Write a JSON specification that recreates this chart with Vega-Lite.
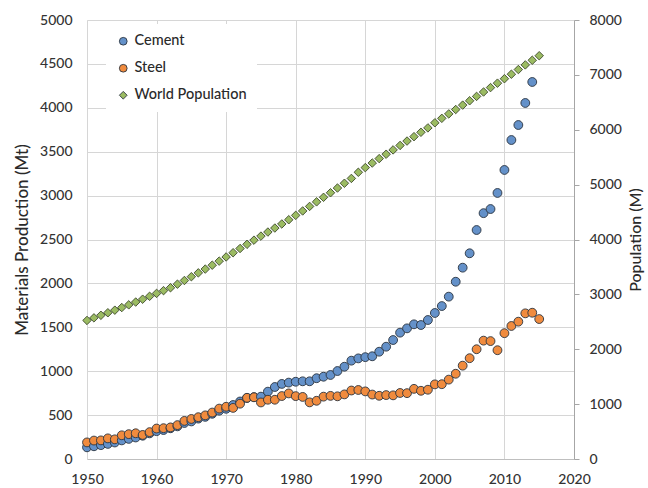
{
  "$schema": "https://vega.github.io/schema/vega-lite/v6.json",
  "width": 487,
  "height": 439,
  "autosize": "none",
  "padding": {"left": 87, "top": 20, "right": 74, "bottom": 29},
  "background": "white",
  "config": {
    "font": "Lato",
    "view": {"stroke": null},
    "axis": {"labelFont": "Lato", "titleFont": "Lato", "labelColor": "#333333", "titleColor": "#2a2a2a", "labelFontSize": 14, "titleFontSize": 16}
  },
  "data": {"values": [
    {"year":1950,"Cement":133,"Steel":189,"World Population":2525},
    {"year":1951,"Cement":145,"Steel":210,"World Population":2572},
    {"year":1952,"Cement":158,"Steel":212,"World Population":2619},
    {"year":1953,"Cement":172,"Steel":235,"World Population":2665},
    {"year":1954,"Cement":188,"Steel":224,"World Population":2712},
    {"year":1955,"Cement":212,"Steel":270,"World Population":2760},
    {"year":1956,"Cement":229,"Steel":283,"World Population":2809},
    {"year":1957,"Cement":245,"Steel":293,"World Population":2860},
    {"year":1958,"Cement":265,"Steel":274,"World Population":2912},
    {"year":1959,"Cement":292,"Steel":306,"World Population":2965},
    {"year":1960,"Cement":317,"Steel":347,"World Population":3018},
    {"year":1961,"Cement":330,"Steel":351,"World Population":3068},
    {"year":1962,"Cement":350,"Steel":360,"World Population":3121},
    {"year":1963,"Cement":372,"Steel":386,"World Population":3186},
    {"year":1964,"Cement":410,"Steel":434,"World Population":3253},
    {"year":1965,"Cement":428,"Steel":456,"World Population":3322},
    {"year":1966,"Cement":460,"Steel":476,"World Population":3392},
    {"year":1967,"Cement":480,"Steel":497,"World Population":3461},
    {"year":1968,"Cement":515,"Steel":529,"World Population":3532},
    {"year":1969,"Cement":550,"Steel":574,"World Population":3606},
    {"year":1970,"Cement":572,"Steel":595,"World Population":3682},
    {"year":1971,"Cement":615,"Steel":582,"World Population":3759},
    {"year":1972,"Cement":655,"Steel":630,"World Population":3836},
    {"year":1973,"Cement":695,"Steel":697,"World Population":3912},
    {"year":1974,"Cement":705,"Steel":703,"World Population":3988},
    {"year":1975,"Cement":710,"Steel":644,"World Population":4062},
    {"year":1976,"Cement":767,"Steel":675,"World Population":4136},
    {"year":1977,"Cement":820,"Steel":675,"World Population":4209},
    {"year":1978,"Cement":855,"Steel":717,"World Population":4283},
    {"year":1979,"Cement":870,"Steel":747,"World Population":4360},
    {"year":1980,"Cement":880,"Steel":716,"World Population":4440},
    {"year":1981,"Cement":885,"Steel":707,"World Population":4520},
    {"year":1982,"Cement":885,"Steel":645,"World Population":4603},
    {"year":1983,"Cement":920,"Steel":663,"World Population":4686},
    {"year":1984,"Cement":937,"Steel":710,"World Population":4769},
    {"year":1985,"Cement":957,"Steel":719,"World Population":4852},
    {"year":1986,"Cement":1002,"Steel":714,"World Population":4938},
    {"year":1987,"Cement":1051,"Steel":736,"World Population":5025},
    {"year":1988,"Cement":1120,"Steel":780,"World Population":5113},
    {"year":1989,"Cement":1146,"Steel":786,"World Population":5225},
    {"year":1990,"Cement":1160,"Steel":770,"World Population":5310},
    {"year":1991,"Cement":1170,"Steel":734,"World Population":5393},
    {"year":1992,"Cement":1222,"Steel":720,"World Population":5474},
    {"year":1993,"Cement":1279,"Steel":728,"World Population":5554},
    {"year":1994,"Cement":1355,"Steel":725,"World Population":5633},
    {"year":1995,"Cement":1439,"Steel":752,"World Population":5714},
    {"year":1996,"Cement":1488,"Steel":750,"World Population":5794},
    {"year":1997,"Cement":1534,"Steel":799,"World Population":5874},
    {"year":1998,"Cement":1526,"Steel":777,"World Population":5954},
    {"year":1999,"Cement":1583,"Steel":789,"World Population":6034},
    {"year":2000,"Cement":1663,"Steel":850,"World Population":6127},
    {"year":2001,"Cement":1742,"Steel":852,"World Population":6208},
    {"year":2002,"Cement":1849,"Steel":904,"World Population":6289},
    {"year":2003,"Cement":2019,"Steel":971,"World Population":6369},
    {"year":2004,"Cement":2179,"Steel":1063,"World Population":6449},
    {"year":2005,"Cement":2343,"Steel":1148,"World Population":6528},
    {"year":2006,"Cement":2608,"Steel":1250,"World Population":6608},
    {"year":2007,"Cement":2800,"Steel":1348,"World Population":6688},
    {"year":2008,"Cement":2847,"Steel":1343,"World Population":6768},
    {"year":2009,"Cement":3030,"Steel":1239,"World Population":6849},
    {"year":2010,"Cement":3292,"Steel":1433,"World Population":6930},
    {"year":2011,"Cement":3633,"Steel":1515,"World Population":7012},
    {"year":2012,"Cement":3804,"Steel":1564,"World Population":7097},
    {"year":2013,"Cement":4055,"Steel":1659,"World Population":7182},
    {"year":2014,"Cement":4294,"Steel":1666,"World Population":7266},
    {"year":2015,"Cement":null,"Steel":1594,"World Population":7349}
  ]},
  "encoding": {
    "x": {"field": "year", "type": "quantitative",
      "scale": {"domain": [1950, 2020], "nice": false, "zero": false},
      "axis": {"values": [1950,1960,1970,1980,1990,2000,2010,2020], "format": "d", "title": null, "labelFlush": false,
        "grid": true, "gridColor": "#d6d6d6", "ticks": false, "domainColor": "#bfbfbf", "labelPadding": 13, "labelFontWeight": 500}}
  },
  "layer": [
    {
      "transform": [{"fold": ["Cement", "Steel"], "as": ["series", "value"]}, {"filter": "datum.value != null"}],
      "mark": {"type": "point", "filled": true, "size": 78, "stroke": "#2b3440", "strokeWidth": 0.9, "opacity": 1},
      "encoding": {
        "y": {"field": "value", "type": "quantitative",
          "scale": {"domain": [0, 5000], "nice": false},
          "axis": {"values": [0,500,1000,1500,2000,2500,3000,3500,4000,4500,5000], "format": "d", "title": "Materials Production (Mt)",
            "grid": true, "gridColor": "#d6d6d6", "ticks": false, "domainColor": "#d6d6d6", "labelPadding": 15, "labelFontWeight": 500,
            "labelFlush": false, "titleFontWeight": 500, "titleFontSize": 17, "titlePadding": 8}},
        "color": {"field": "series", "type": "nominal",
          "scale": {"domain": ["Cement", "Steel", "World Population"], "range": ["#6491c9", "#f08b3e", "#9bbb62"]},
          "legend": {"title": null, "orient": "none", "legendX": 19, "legendY": 4, "fillColor": "white", "padding": 10,
            "labelFontSize": 14.5, "labelFont": "Lato", "labelColor": "#2a2a2a", "labelFontWeight": 500, "rowPadding": 12, "symbolSize": 60,
            "symbolStrokeColor": "#2b3440", "symbolStrokeWidth": 0.9, "labelOffset": 4}},
        "shape": {"field": "series", "type": "nominal",
          "scale": {"domain": ["Cement", "Steel", "World Population"], "range": ["circle", "circle", "diamond"]}}
      }
    },
    {
      "transform": [{"fold": ["World Population"], "as": ["series", "value"]}],
      "mark": {"type": "point", "filled": true, "size": 72, "stroke": "#3d4a2c", "strokeWidth": 0.9, "opacity": 1},
      "encoding": {
        "y": {"field": "value", "type": "quantitative",
          "scale": {"domain": [0, 8000], "nice": false},
          "axis": {"orient": "right", "values": [0,1000,2000,3000,4000,5000,6000,7000,8000], "format": "d", "title": "Population (M)",
            "grid": false, "ticks": true, "tickSize": 5, "tickColor": "#a6a6a6", "domainColor": "#a6a6a6", "labelPadding": 10, "labelFontWeight": 500,
            "labelFlush": false, "titleFontWeight": 500, "titleAngle": 270, "titleBaseline": "top", "titlePadding": 6}},
        "color": {"field": "series", "type": "nominal"},
        "shape": {"field": "series", "type": "nominal"}
      }
    }
  ],
  "resolve": {"scale": {"y": "independent"}}
}
